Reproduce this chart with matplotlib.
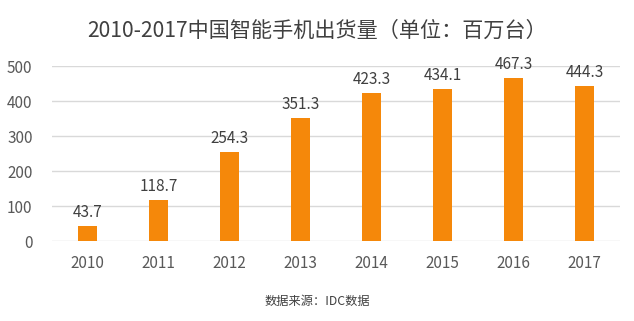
import matplotlib.pyplot as plt
import numpy as np

plt.rcParams['font.family'] = ['Noto Sans CJK SC', 'DejaVu Sans']

years = ['2010', '2011', '2012', '2013', '2014', '2015', '2016', '2017']
shipments = [43.7, 118.7, 254.3, 351.3, 423.3, 434.1, 467.3, 444.3]
yticks = [0, 100, 200, 300, 400, 500]

fig = plt.figure(figsize=(6.34, 3.21), dpi=100)
ax = fig.add_axes([0.082, 0.249, 0.896, 0.545])

x = np.arange(len(years))
ax.bar(x, shipments, width=0.28, color='#F5880A', zorder=3)
for xi, v in zip(x, shipments):
    ax.text(xi, v + 14, f'{v:.1f}', ha='center', va='bottom',
            fontsize=11, color='#404040', zorder=4)

ax.set_xlim(-0.5, len(years) - 0.5)
ax.set_ylim(0, 500)
ax.set_yticks(yticks)
ax.set_xticks(x)
ax.set_xticklabels(years)
ax.yaxis.grid(True, color='#D9D9D9', linewidth=1, zorder=0)
for s in ax.spines.values():
    s.set_visible(False)
ax.tick_params(axis='both', length=0, labelsize=11, labelcolor='#595959')
ax.tick_params(axis='x', pad=10)
ax.tick_params(axis='y', pad=14)

fig.text(0.5, 0.905, '2010-2017中国智能手机出货量（单位：百万台）', ha='center',
         va='center', fontsize=15.2, color='#404040')
fig.text(0.5, 0.06, '数据来源：IDC数据', ha='center', va='center',
         fontsize=8.8, color='#404040')

fig.savefig('out.png', dpi=100)
